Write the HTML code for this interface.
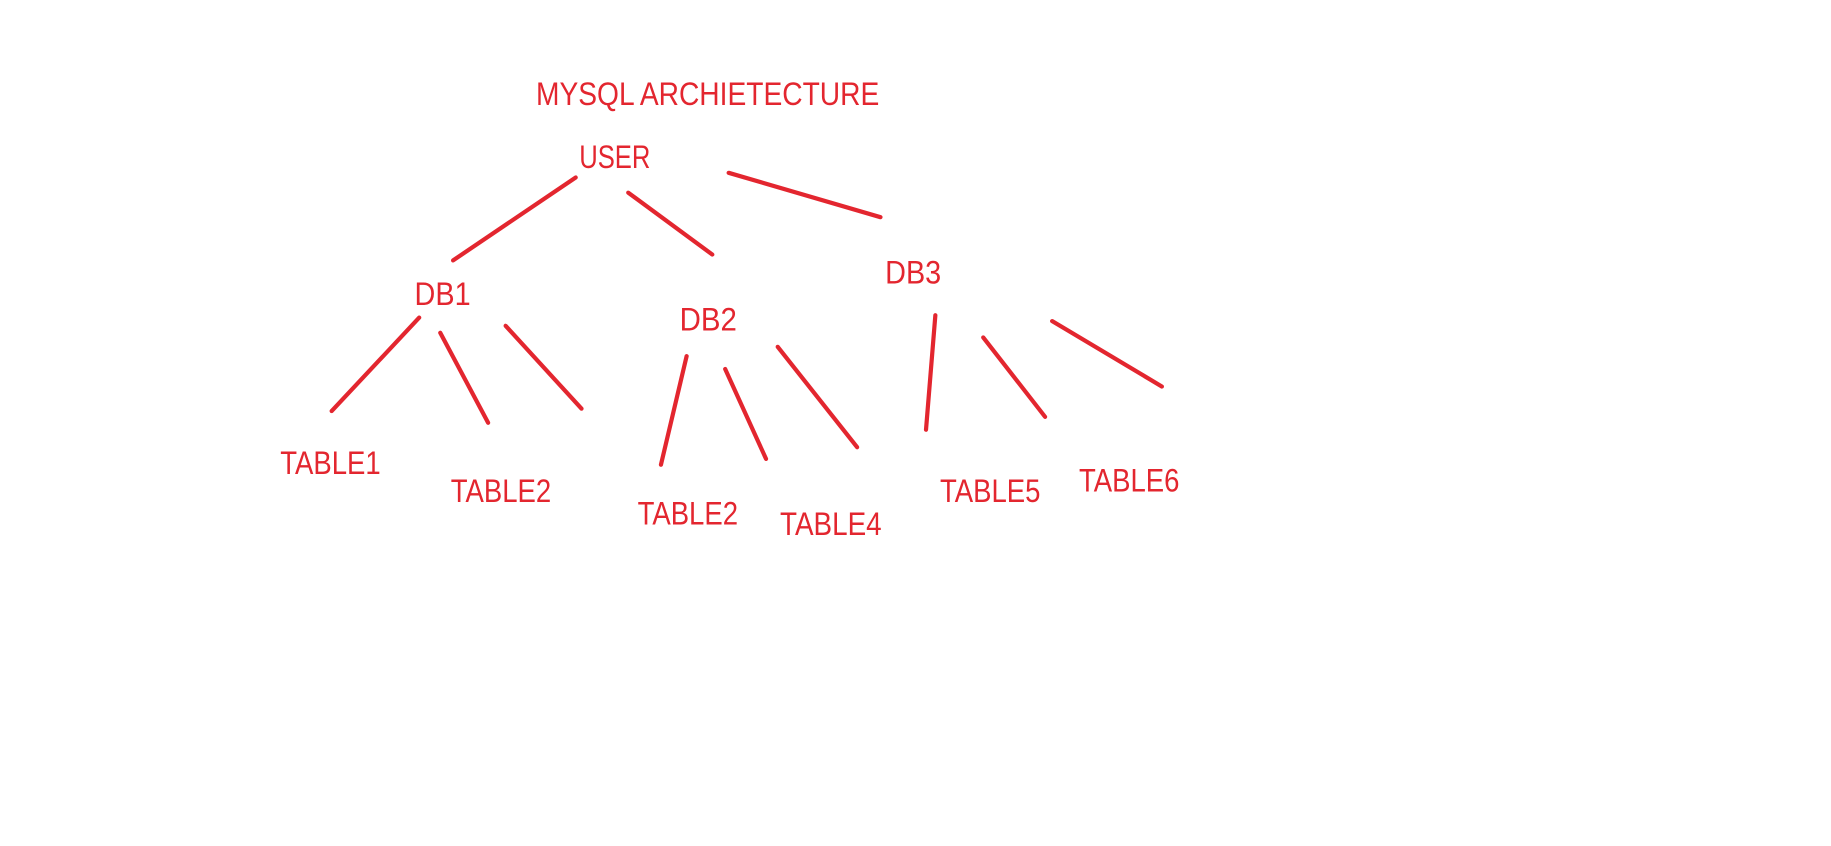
<!DOCTYPE html>
<html><head><meta charset="utf-8"><style>
html,body{margin:0;padding:0;background:#fff;width:1831px;height:846px;overflow:hidden}
svg{display:block}
text{font-family:"Liberation Sans",sans-serif;font-size:28px;fill:#e3262f}
</style></head><body>
<svg width="1831" height="846" viewBox="0 0 1568 724.5">
<g stroke="#e3262f" stroke-width="3.6" stroke-linecap="round" fill="none">
<line x1="493" y1="152" x2="388" y2="223"/>
<line x1="538" y1="165" x2="610" y2="218"/>
<line x1="624" y1="148" x2="754" y2="186"/>
<line x1="359" y1="272" x2="284" y2="352"/>
<line x1="377" y1="285" x2="418" y2="362"/>
<line x1="433" y1="279" x2="498" y2="350"/>
<line x1="588" y1="305" x2="566" y2="398"/>
<line x1="621" y1="316" x2="656" y2="393"/>
<line x1="666" y1="297" x2="734" y2="383"/>
<line x1="801" y1="270" x2="793" y2="368"/>
<line x1="842" y1="289" x2="895" y2="357"/>
<line x1="901" y1="275" x2="995" y2="331"/>
</g>
<text x="459" y="90" textLength="294" lengthAdjust="spacingAndGlyphs">MYSQL ARCHIETECTURE</text>
<text x="496" y="144" textLength="61" lengthAdjust="spacingAndGlyphs">USER</text>
<text x="355" y="261" textLength="48" lengthAdjust="spacingAndGlyphs">DB1</text>
<text x="582" y="283" textLength="49" lengthAdjust="spacingAndGlyphs">DB2</text>
<text x="758" y="243" textLength="48" lengthAdjust="spacingAndGlyphs">DB3</text>
<text x="240" y="406" textLength="86" lengthAdjust="spacingAndGlyphs">TABLE1</text>
<text x="386" y="430" textLength="86" lengthAdjust="spacingAndGlyphs">TABLE2</text>
<text x="546" y="449" textLength="86" lengthAdjust="spacingAndGlyphs">TABLE2</text>
<text x="668" y="458" textLength="87" lengthAdjust="spacingAndGlyphs">TABLE4</text>
<text x="805" y="430" textLength="86" lengthAdjust="spacingAndGlyphs">TABLE5</text>
<text x="924" y="421" textLength="86" lengthAdjust="spacingAndGlyphs">TABLE6</text>
</svg>
</body></html>
